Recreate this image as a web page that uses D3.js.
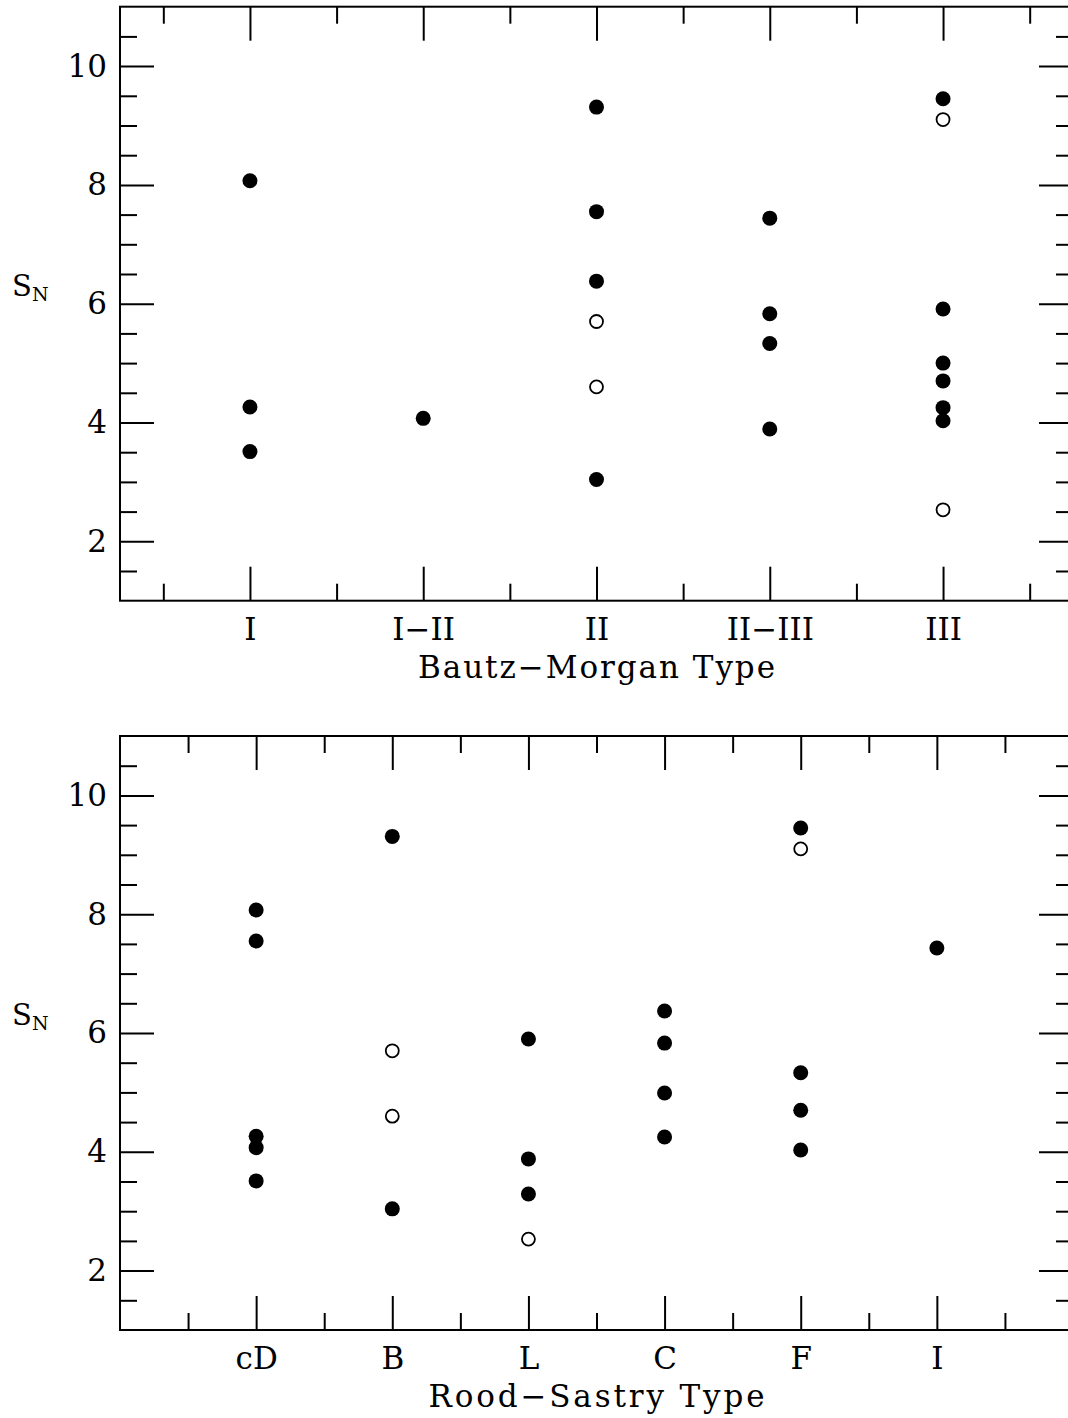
<!DOCTYPE html>
<html>
<head>
<meta charset="utf-8">
<script src="https://cdn.jsdelivr.net/npm/d3@7"></script>
<style>
  body { margin: 0; background: #fff; }
  svg { display: block; }
  text { font-family: "DejaVu Serif", serif; fill: #000; }
</style>
</head>
<body>
<div id="chart"></div>
<script>
// Bautz-Morgan panel
var bmTypes = ["I", "I\u2212II", "II", "II\u2212III", "III"];
var bmFilled = [
  [8.07, 4.26, 3.51],
  [4.07],
  [9.31, 7.55, 6.38, 3.04],
  [7.44, 5.83, 5.33, 3.89],
  [9.45, 5.91, 5.00, 4.70, 4.25, 4.03]
];
var bmOpen = [
  [],
  [],
  [5.70, 4.60],
  [],
  [9.10, 2.53]
];

// Rood-Sastry panel
var rsTypes = ["cD", "B", "L", "C", "F", "I"];
var rsFilled = [
  [8.07, 7.55, 4.26, 4.07, 3.51],
  [9.31, 3.04],
  [5.90, 3.88, 3.29],
  [6.37, 5.83, 4.99, 4.25],
  [9.45, 5.33, 4.70, 4.03],
  [7.43]
];
var rsOpen = [
  [],
  [5.70, 4.60],
  [2.53],
  [],
  [9.10],
  []
];

var yMajor = [2, 4, 6, 8, 10];
var yMinor = d3.range(1.5, 11, 0.5).filter(function(v) { return yMajor.indexOf(v) < 0; });

var width = 1068,
    height = 1418,
    left = 120,
    right = 1073,
    major = 34,
    minor = 17;

var svg = d3.select("#chart")
            .append("svg")
            .attr("width", width)
            .attr("height", height);

function points(types, filled, open) {
  var out = [];
  types.forEach(function(t, i) {
    filled[i].forEach(function(v) { out.push({ cat: i + 1, value: v, open: false }); });
    open[i].forEach(function(v) { out.push({ cat: i + 1, value: v, open: true }); });
  });
  return out;
}

function panel(top, bottom, xDomain, types, filled, open, title) {
  var x = d3.scaleLinear().domain(xDomain).range([left, right]);
  var y = d3.scaleLinear().domain([1, 11]).range([bottom, top]);
  var g = svg.append("g");

  var xMajor = d3.range(1, types.length + 1);
  var xMinor = d3.range(0.5, xDomain[1], 1).filter(function(v) { return v > xDomain[0]; });

  function style(sel) {
    sel.select(".domain").remove();
    sel.selectAll("line").attr("stroke", "#000").attr("stroke-width", 2);
  }

  // bottom axis with labels
  g.append("g")
    .attr("transform", "translate(0," + bottom + ")")
    .call(d3.axisBottom(x).tickValues(xMajor).tickSizeInner(-major).tickSizeOuter(0)
      .tickFormat(function(d) { return types[d - 1]; }).tickPadding(17))
    .call(style)
    .selectAll("text")
      .attr("font-size", 31)
      .attr("font-family", "DejaVu Serif");
  g.append("g")
    .attr("transform", "translate(0," + bottom + ")")
    .call(d3.axisBottom(x).tickValues(xMinor).tickSizeInner(-minor).tickSizeOuter(0).tickFormat(""))
    .call(style);

  // top axis, ticks only
  g.append("g")
    .attr("transform", "translate(0," + top + ")")
    .call(d3.axisTop(x).tickValues(xMajor).tickSizeInner(-major).tickSizeOuter(0).tickFormat(""))
    .call(style);
  g.append("g")
    .attr("transform", "translate(0," + top + ")")
    .call(d3.axisTop(x).tickValues(xMinor).tickSizeInner(-minor).tickSizeOuter(0).tickFormat(""))
    .call(style);

  // left axis with labels
  g.append("g")
    .attr("transform", "translate(" + left + ",0)")
    .call(d3.axisLeft(y).tickValues(yMajor).tickSizeInner(-major).tickSizeOuter(0).tickPadding(13))
    .call(style)
    .selectAll("text")
      .attr("font-size", 31)
      .attr("font-family", "DejaVu Serif");
  g.append("g")
    .attr("transform", "translate(" + left + ",0)")
    .call(d3.axisLeft(y).tickValues(yMinor).tickSizeInner(-minor).tickSizeOuter(0).tickFormat(""))
    .call(style);

  // right axis, ticks only
  g.append("g")
    .attr("transform", "translate(" + right + ",0)")
    .call(d3.axisRight(y).tickValues(yMajor).tickSizeInner(-major).tickSizeOuter(0).tickFormat(""))
    .call(style);
  g.append("g")
    .attr("transform", "translate(" + right + ",0)")
    .call(d3.axisRight(y).tickValues(yMinor).tickSizeInner(-minor).tickSizeOuter(0).tickFormat(""))
    .call(style);

  // frame
  g.append("rect")
    .attr("x", left)
    .attr("y", top)
    .attr("width", right - left)
    .attr("height", bottom - top)
    .attr("fill", "none")
    .attr("stroke", "#000")
    .attr("stroke-width", 2);

  // points
  g.selectAll("circle.pt")
    .data(points(types, filled, open))
    .enter()
    .append("circle")
    .attr("class", "pt")
    .attr("cx", function(d) { return x(d.cat); })
    .attr("cy", function(d) { return y(d.value); })
    .attr("r", function(d) { return d.open ? 6.5 : 7.5; })
    .attr("fill", function(d) { return d.open ? "#fff" : "#000"; })
    .attr("stroke", "#000")
    .attr("stroke-width", function(d) { return d.open ? 1.8 : 0; });

  // axis titles
  g.append("text")
    .attr("x", (left + right) / 2)
    .attr("y", bottom + 77)
    .attr("text-anchor", "middle")
    .attr("font-size", 31)
    .attr("textLength", title.length * 21)
    .attr("lengthAdjust", "spacing")
    .text(title);

  var sn = g.append("text")
    .attr("x", 12)
    .attr("y", (top + bottom) / 2 - 8)
    .attr("font-size", 29)
    .text("S");
  sn.append("tspan")
    .attr("font-size", 19)
    .attr("dy", 5)
    .text("N");
}

panel(6.7, 600.7, [0.25, 5.75], bmTypes, bmFilled, bmOpen, "Bautz\u2212Morgan Type");
panel(736, 1330, [0, 7], rsTypes, rsFilled, rsOpen, "Rood\u2212Sastry Type");
</script>
</body>
</html>
